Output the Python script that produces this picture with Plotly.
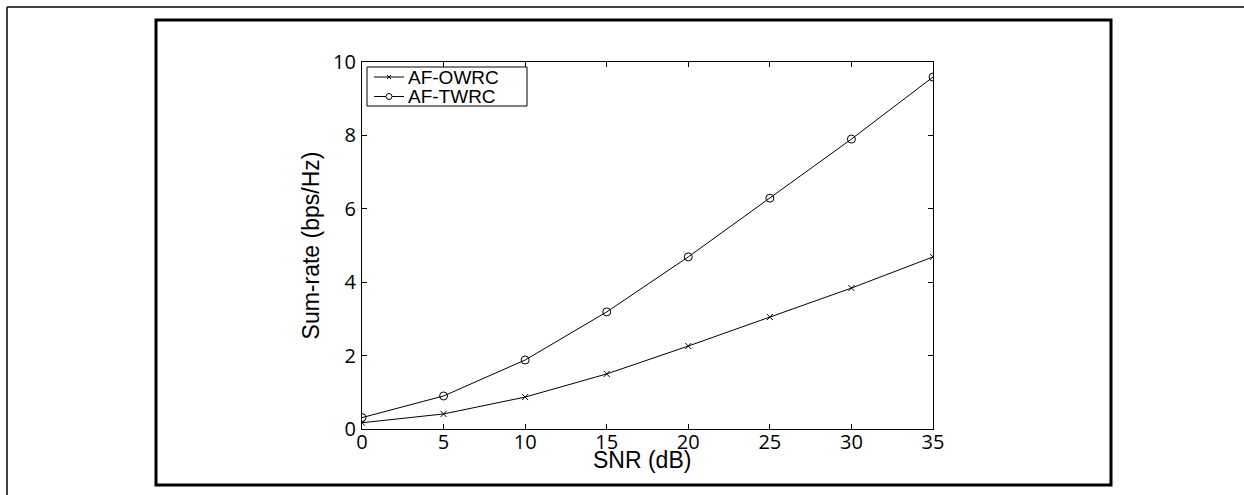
import plotly.graph_objects as go

snr = [0, 5, 10, 15, 20, 25, 30, 35]
af_owrc = [0.17, 0.41, 0.87, 1.50, 2.26, 3.05, 3.84, 4.69]
af_twrc = [0.31, 0.90, 1.88, 3.19, 4.69, 6.29, 7.90, 9.59]
series_names = ["AF-OWRC", "AF-TWRC"]

x_ticks = [0, 5, 10, 15, 20, 25, 30, 35]
y_ticks = [0, 2, 4, 6, 8, 10]

W, H = 1244, 495
L, R, T, B = 362, 311, 62, 66
PW, PH = W - L - R, H - T - B


def xp(px):
    return (px - L) / PW


def yp(py):
    return (H - B - py) / PH


fig = go.Figure()
fig.add_trace(go.Scatter(
    x=snr, y=af_owrc, name=series_names[0], mode="lines+markers",
    line=dict(color="black", width=1),
    marker=dict(symbol="x-thin-open", size=6, color="black",
                line=dict(color="black", width=1)),
    showlegend=False,
))
fig.add_trace(go.Scatter(
    x=snr, y=af_twrc, name=series_names[1], mode="lines+markers",
    line=dict(color="black", width=1),
    marker=dict(symbol="circle-open", size=8, color="black",
                line=dict(color="black", width=1)),
    showlegend=False,
))

axis_common = dict(
    showline=True, linecolor="black", linewidth=1.3, mirror="ticks",
    ticks="inside", ticklen=5, tickwidth=1, tickcolor="black",
    showgrid=False, zeroline=False,
    tickfont=dict(family="Open Sans", size=20, color="black"),
)

shapes = [
    # thin outer page lines
    dict(type="line", xref="paper", yref="paper",
         x0=xp(7), x1=xp(1244), y0=yp(7), y1=yp(7),
         line=dict(color="black", width=1.5)),
    dict(type="line", xref="paper", yref="paper",
         x0=xp(7), x1=xp(7), y0=yp(7), y1=yp(495),
         line=dict(color="black", width=1.5)),
    # thick figure frame
    dict(type="rect", xref="paper", yref="paper",
         x0=xp(156), x1=xp(1111), y0=yp(20), y1=yp(485),
         line=dict(color="black", width=3)),
    # legend box
    dict(type="rect", xref="paper", yref="paper",
         x0=xp(367), x1=xp(527), y0=yp(67), y1=yp(106),
         line=dict(color="black", width=1), fillcolor="white"),
]
annotations = []
legend_rows = [77.0, 96.5]
for i, (name, ry) in enumerate(zip(series_names, legend_rows)):
    shapes.append(dict(type="line", xref="paper", yref="paper",
                       x0=xp(374), x1=xp(404), y0=yp(ry), y1=yp(ry),
                       line=dict(color="black", width=1)))
    if i == 0:
        shapes.append(dict(type="line", xref="paper", yref="paper",
                           x0=xp(387), x1=xp(391), y0=yp(ry - 2), y1=yp(ry + 2),
                           line=dict(color="black", width=1)))
        shapes.append(dict(type="line", xref="paper", yref="paper",
                           x0=xp(387), x1=xp(391), y0=yp(ry + 2), y1=yp(ry - 2),
                           line=dict(color="black", width=1)))
    else:
        shapes.append(dict(type="circle", xref="paper", yref="paper",
                           x0=xp(386), x1=xp(392), y0=yp(ry - 3), y1=yp(ry + 3),
                           line=dict(color="black", width=1), fillcolor="white"))
    annotations.append(dict(
        text=name, xref="paper", yref="paper", x=xp(406), y=yp(ry),
        xanchor="left", yanchor="middle", showarrow=False,
        font=dict(family="Liberation Sans", size=19, color="black"),
    ))

annotations.append(dict(
    text="SNR (dB)", xref="paper", yref="paper", x=xp(642), y=yp(460),
    xanchor="center", yanchor="middle", showarrow=False,
    font=dict(family="Liberation Sans", size=23, color="black"),
))

fig.update_layout(
    width=W, height=H,
    margin=dict(l=L, r=R, t=T, b=B, autoexpand=False),
    paper_bgcolor="white", plot_bgcolor="white",
    xaxis=dict(range=[0, 35], tickvals=x_ticks, ticklabelstandoff=-5,
               **axis_common),
    yaxis=dict(range=[0, 10], tickvals=y_ticks, ticklabelstandoff=1,
               title=dict(text="Sum-rate (bps/Hz)", standoff=6,
                          font=dict(family="Liberation Sans", size=23, color="black")),
               **axis_common),
    showlegend=False,
    shapes=shapes,
    annotations=annotations,
)

fig.write_html("out.html", config={"displayModeBar": False},
               post_script="document.body.style.margin='0';document.body.style.overflow='hidden';")
